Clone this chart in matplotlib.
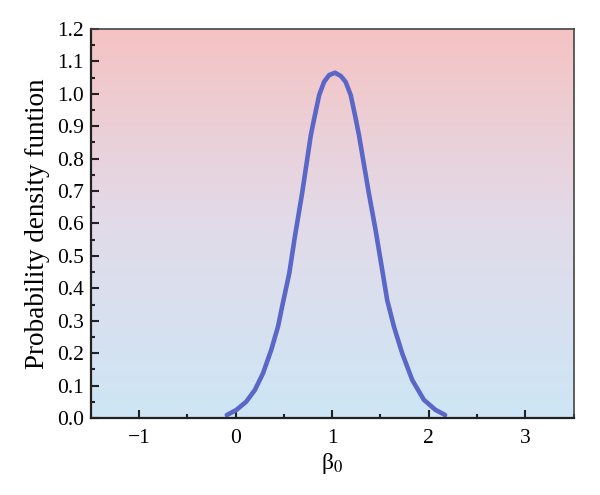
import numpy as np
import matplotlib.pyplot as plt
from matplotlib.colors import LinearSegmentedColormap
from matplotlib.ticker import MultipleLocator

plt.rcParams['font.family'] = ['Liberation Serif', 'DejaVu Serif']
plt.rcParams['mathtext.fontset'] = 'stix'

# --- curve points ---
beta0 = [-0.09, 0.01, 0.11, 0.20, 0.285, 0.37, 0.44, 0.49, 0.557, 0.615, 0.69, 0.78,
         0.815, 0.866, 0.917, 0.97, 1.03, 1.09, 1.14, 1.193, 1.244, 1.278, 1.38,
         1.45, 1.536, 1.57, 1.64, 1.725, 1.83, 1.95, 2.07, 2.17]
pdf = [0.009, 0.025, 0.050, 0.086, 0.138, 0.210, 0.282, 0.354, 0.447, 0.560, 0.694, 0.873,
       0.924, 0.996, 1.037, 1.058, 1.065, 1.055, 1.037, 0.996, 0.924, 0.873, 0.694,
       0.580, 0.426, 0.364, 0.282, 0.200, 0.117, 0.056, 0.025, 0.009]

xticks = [-1, 0, 1, 2, 3]
yticks = np.round(np.arange(0, 1.21, 0.1), 1)

fig = plt.figure(figsize=(6, 4.95), dpi=100)
ax = fig.add_axes([0.151, 0.1556, 0.805, 0.7858])

# background gradient, pink on top to light blue at bottom
cmap = LinearSegmentedColormap.from_list("bg", ["#cde6f5", "#e2dbe9", "#f5c3c3"])
grad = np.linspace(0, 1, 256).reshape(-1, 1)
ax.imshow(grad, cmap=cmap, origin="lower", aspect="auto",
          extent=[-1.5, 3.5, 0, 1.2], zorder=0)

ax.plot(beta0, pdf, color="#5a67c6", lw=3.3, solid_capstyle="round",
        solid_joinstyle="round", zorder=2)

ax.set_xlim(-1.5, 3.5)
ax.set_ylim(0, 1.2)
ax.set_xticks(xticks)
ax.set_xticklabels([str(t).replace("-", "\u2212") for t in xticks])
ax.set_yticks(yticks)
ax.set_yticklabels([f"{t:.1f}" for t in yticks])
ax.xaxis.set_minor_locator(MultipleLocator(0.5))
ax.yaxis.set_minor_locator(MultipleLocator(0.05))
ax.tick_params(which="both", direction="in", top=False, right=False,
               labelsize=15.5, width=1.5, color="#222222")
ax.tick_params(which="major", length=6)
ax.tick_params(which="minor", length=3)
ax.tick_params(axis="x", pad=8)
ax.tick_params(axis="y", pad=5)

for s in ["left", "bottom"]:
    ax.spines[s].set_linewidth(1.6)
    ax.spines[s].set_color("#222222")
for s in ["top", "right"]:
    ax.spines[s].set_linewidth(1.2)
    ax.spines[s].set_color("#444444")

ax.set_xlabel(r"β$_{0}$", fontsize=17, labelpad=2)
ax.set_ylabel("Probability density funtion", fontsize=19.5, labelpad=5)

fig.savefig("out.png", dpi=100)
